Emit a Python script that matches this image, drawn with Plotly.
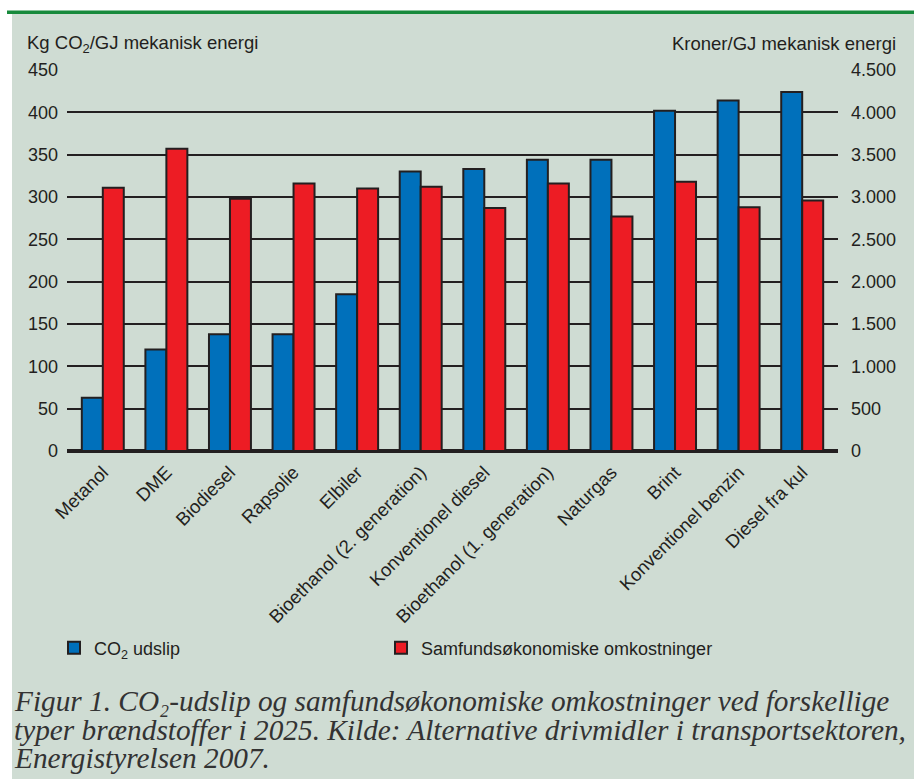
import plotly.graph_objects as go

categories = ["Metanol", "DME", "Biodiesel", "Rapsolie", "Elbiler",
              "Bioethanol (2. generation)", "Konventionel diesel",
              "Bioethanol (1. generation)", "Naturgas", "Brint",
              "Konventionel benzin", "Diesel fra kul"]
co2_udslip = [63, 120, 138, 138, 185, 330, 333, 344, 344, 402, 414, 424]
omkostninger = [3110, 3570, 2980, 3160, 3100, 3120, 2870, 3160, 2770, 3180, 2880, 2960]
left_ticks = list(range(0, 451, 50))
right_ticks = list(range(0, 4501, 500))

BG = "#cfdcd3"
BLUE = "#0070bb"
RED = "#ed1c24"
INK = "#231f20"
FONT = "Liberation Sans, Arial, sans-serif"

W, H = 914, 779
L, R, T, B = 67, 838, 70, 451  # plot area in pixels


def px(x):
    return (x - L) / (R - L)


def py(y):
    return (B - y) / (B - T)


fig = go.Figure()
fig.add_trace(go.Bar(
    x=categories, y=co2_udslip, name="CO<sub>2</sub> udslip",
    marker=dict(color=BLUE, line=dict(color=INK, width=2)),
    offsetgroup="a", yaxis="y", legend="legend"))
fig.add_trace(go.Bar(
    x=categories, y=omkostninger, name="Samfundsøkonomiske omkostninger",
    marker=dict(color=RED, line=dict(color=INK, width=2)),
    offsetgroup="b", yaxis="y2", legend="legend2"))

legend_style = dict(orientation="h", yanchor="middle", xanchor="left",
                    bgcolor="rgba(0,0,0,0)", font=dict(size=18))

fig.update_layout(
    width=W, height=H,
    margin=dict(l=L, r=W - R, t=T, b=H - B, pad=0),
    paper_bgcolor=BG, plot_bgcolor=BG,
    separators=",.",
    barmode="group", bargap=0.34, bargroupgap=0,
    font=dict(family=FONT, size=18, color=INK),
    xaxis=dict(type="category", range=[-0.563, 11.563], tickangle=-45,
               showgrid=False, showline=False, ticks="", zeroline=False,
               ticklabelstandoff=6, tickfont=dict(size=18.5)),
    yaxis=dict(range=[0, 450], tickvals=left_ticks, tickformat="d",
               showgrid=True, gridcolor=INK, gridwidth=2,
               zeroline=True, zerolinecolor=INK, zerolinewidth=4,
               showline=False, ticks="", ticklabelstandoff=8,
               tickfont=dict(size=18)),
    yaxis2=dict(range=[0, 4500], tickvals=right_ticks, tickformat=",",
                overlaying="y", side="right", showgrid=False, zeroline=False,
                showline=False, ticks="", ticklabelstandoff=12,
                tickfont=dict(size=18)),
    showlegend=True,
    legend=dict(x=px(54), y=py(648), **legend_style),
    legend2=dict(x=px(381), y=py(648), **legend_style),
)

shapes = [
    dict(type="rect", xref="paper", yref="paper", x0=px(-5), x1=px(12),
         y0=py(H + 5), y1=py(-5), fillcolor="white", line=dict(width=0)),
    dict(type="rect", xref="paper", yref="paper", x0=px(-5), x1=px(W + 5),
         y0=py(14), y1=py(-5), fillcolor="white", line=dict(width=0)),
    dict(type="rect", xref="paper", yref="paper", x0=px(7), x1=px(W + 5),
         y0=py(14), y1=py(10.5), fillcolor="#178a3c", line=dict(width=0)),
]
fig.update_layout(shapes=shapes)

annotations = [
    dict(text="Kg CO<sub>2</sub>/GJ mekanisk energi", x=px(25), y=py(44),
         xanchor="left", yanchor="middle", font=dict(size=18.5)),
    dict(text="Kroner/GJ mekanisk energi", x=px(898), y=py(44),
         xanchor="right", yanchor="middle", font=dict(size=18.5)),
]
caption = [
    "Figur 1. CO₂-udslip og samfundsøkonomiske omkostninger ved forskellige",
    "typer brændstoffer i 2025. Kilde: Alternative drivmidler i transportsektoren,",
    "Energistyrelsen 2007.",
]
for i, line in enumerate(caption):
    annotations.append(dict(
        text="<i>" + line + "</i>", x=px(12), y=py(701 + i * 28.5),
        xanchor="left", yanchor="middle",
        font=dict(family="Liberation Serif, Times New Roman, serif", size=29.3,
                  color="#333333")))
for a in annotations:
    a.update(xref="paper", yref="paper", showarrow=False)
fig.update_layout(annotations=annotations)

fig.write_html("out.html",
               config={"displayModeBar": False},
               post_script="document.body.style.margin='0px';"
                           "document.body.style.overflow='hidden';")
